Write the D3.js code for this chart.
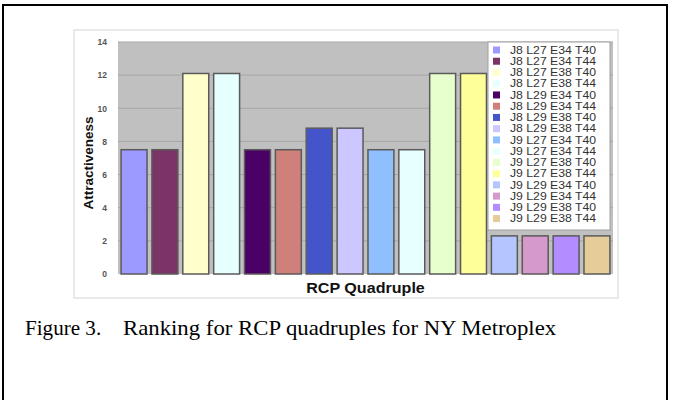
<!DOCTYPE html>
<html><head><meta charset="utf-8">
<script src="https://cdn.jsdelivr.net/npm/d3@7"></script>
<style>body{margin:0;background:#fff}svg{display:block}</style>
</head><body>
<svg id="c" width="673" height="400"></svg>
<script>
const categories = ["J8 L27 E34 T40","J8 L27 E34 T44","J8 L27 E38 T40","J8 L27 E38 T44",
"J8 L29 E34 T40","J8 L29 E34 T44","J8 L29 E38 T40","J8 L29 E38 T44",
"J9 L27 E34 T40","J9 L27 E34 T44","J9 L27 E38 T40","J9 L27 E38 T44",
"J9 L29 E34 T40","J9 L29 E34 T44","J9 L29 E38 T40","J9 L29 E38 T44"];
const values = [7.5,7.5,12.1,12.1,7.5,7.5,8.8,8.8,7.5,7.5,12.1,12.1,2.3,2.3,2.3,2.3];
const colors = ["#9c99ff","#7a3466","#ffffcc","#e6ffff","#4b0066","#d0807a","#4455cc","#ccc8ff",
"#8fbfff","#e8ffff","#e6ffcc","#ffff99","#b3c6ff","#d699cc","#b38cff","#e6cc99"];
const yTicks = [0,2,4,6,8,10,12,14];

const FONT = "Arial, Liberation Sans, sans-serif";
const svg = d3.select("#c");
// outer frame
svg.append("path").attr("d","M3,400 L3,5 L667,5 L667,400").attr("fill","none").attr("stroke","#000").attr("stroke-width",2);
// chart box
svg.append("rect").attr("x",74).attr("y",30).attr("width",544).attr("height",268).attr("fill","#fff").attr("stroke","#e2e2e2").attr("stroke-width",1.5);

const pl=118, pr=613, pt=42, pb=274;
const x = d3.scaleBand().domain(categories).range([pl,pr]).paddingInner(0.16).paddingOuter(0.1);
const y = d3.scaleLinear().domain([0,14]).range([pb,pt]);

svg.append("rect").attr("x",pl).attr("y",pt).attr("width",pr-pl).attr("height",pb-pt).attr("fill","#c0c0c0");
svg.append("g").selectAll("line").data(yTicks.slice(1)).join("line")
 .attr("x1",pl).attr("x2",pr).attr("y1",d=>y(d)).attr("y2",d=>y(d)).attr("stroke","#a6a6a6").attr("stroke-width",1);

const ya = d3.axisLeft(y).tickValues(yTicks).tickSize(0).tickPadding(11);
const g = svg.append("g").attr("transform",`translate(${pl},0)`).call(ya);
g.select(".domain").remove();
g.selectAll("text").attr("font-family",FONT).attr("font-weight","bold").attr("font-size",8.5).attr("fill","#555");

svg.append("g").selectAll("rect").data(values).join("rect")
 .attr("x",(d,i)=>x(categories[i])).attr("width",x.bandwidth())
 .attr("y",d=>y(d)).attr("height",d=>y(0)-y(d))
 .attr("fill",(d,i)=>colors[i]).attr("stroke","#5a5a5a").attr("stroke-width",1.5);

svg.append("text").attr("transform","translate(93,163) rotate(-90)").attr("text-anchor","middle")
 .attr("font-family",FONT).attr("font-weight","bold").attr("font-size",13.5).attr("fill","#111").text("Attractiveness");
svg.append("text").attr("transform",`translate(${(pl+pr)/2},293) scale(1.15,1)`).attr("text-anchor","middle")
 .attr("font-family",FONT).attr("font-weight","bold").attr("font-size",14).attr("fill","#111").text("RCP Quadruple");

// legend
const lx=488, ly=42, lw=122, lh=188;
svg.append("rect").attr("x",lx).attr("y",ly).attr("width",lw).attr("height",lh).attr("fill","#fff").attr("stroke","#a0a0a0").attr("stroke-width",1);
const lg = svg.append("g").selectAll("g").data(categories).join("g")
 .attr("transform",(d,i)=>`translate(${lx+5},${50+i*11.24})`);
lg.append("rect").attr("y",-3.5).attr("width",7).attr("height",7).attr("fill",(d,i)=>colors[i]);
lg.append("text").attr("transform","translate(17,3.7) scale(1.2,1)").attr("font-family",FONT).attr("font-size",10.2).attr("fill","#333").text(d=>d);

const SERIF = "Liberation Serif, Times New Roman, serif";
svg.append("text").attr("transform","translate(25,335) scale(0.96,1)").attr("font-family",SERIF).attr("font-size",22).attr("fill","#000").text("Figure 3.");
svg.append("text").attr("transform","translate(123,335) scale(1.035,1)").attr("font-family",SERIF).attr("font-size",22).attr("fill","#000").text("Ranking for RCP quadruples for NY Metroplex");
</script>
</body></html>
